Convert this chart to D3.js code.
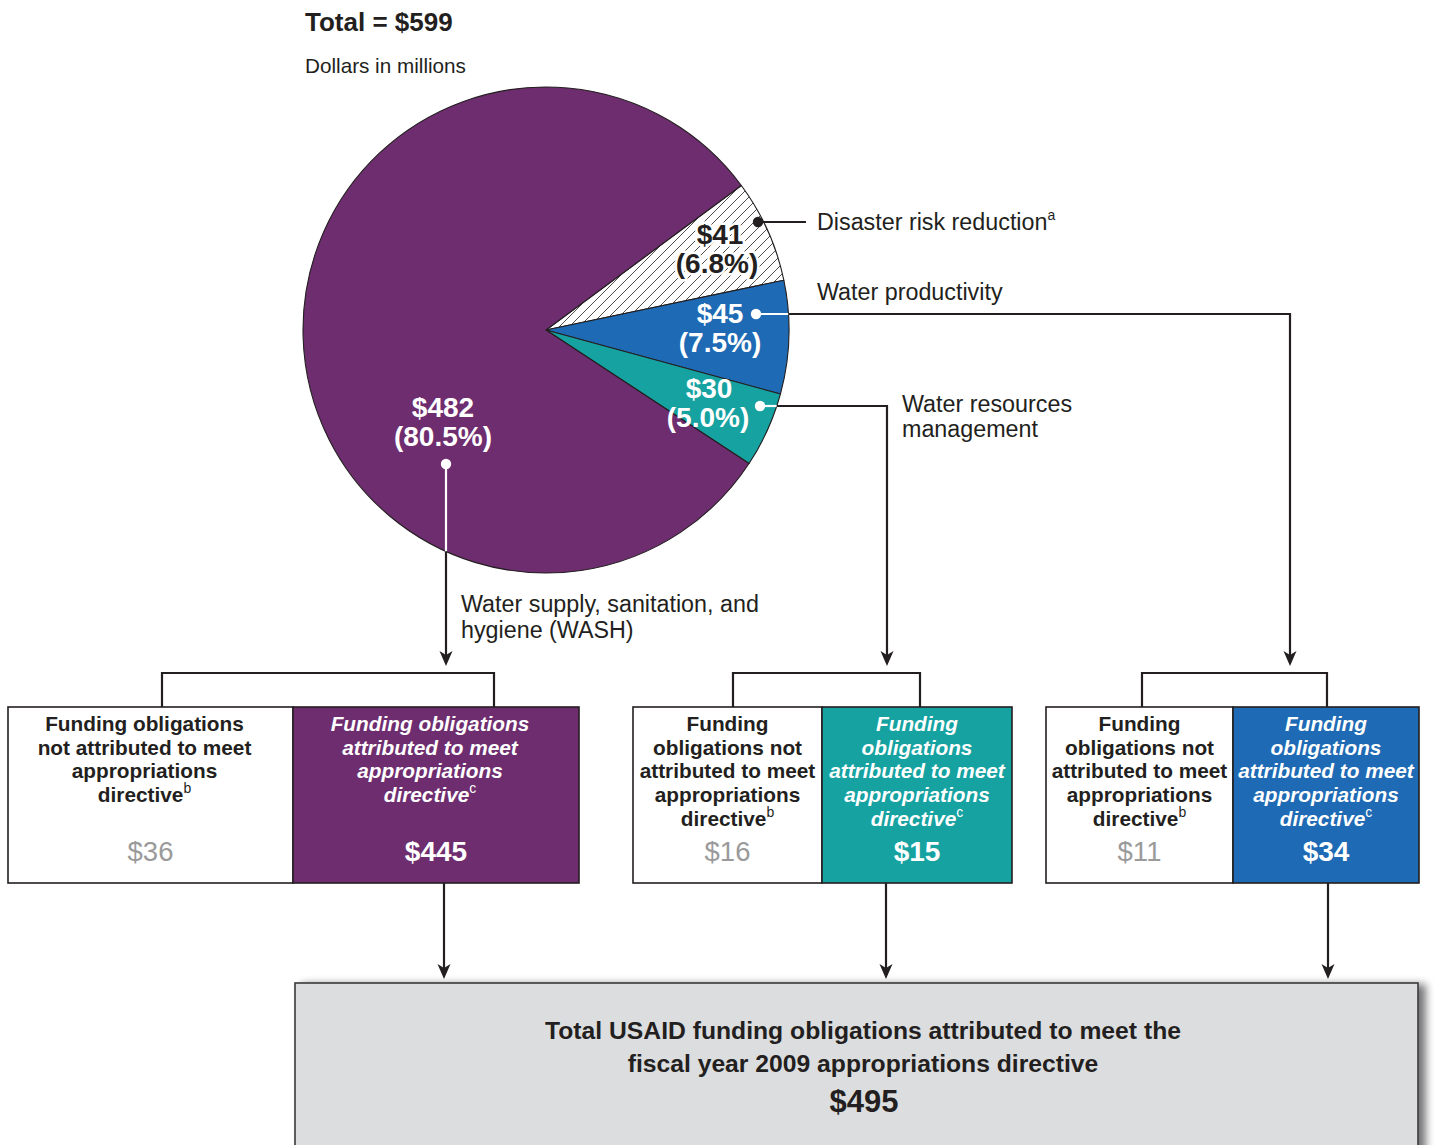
<!DOCTYPE html>
<html>
<head>
<meta charset="utf-8">
<script src="https://cdn.jsdelivr.net/npm/d3@7"></script>
<style>
  html, body { margin: 0; padding: 0; background: #ffffff; }
  svg { display: block; font-family: "Liberation Sans", Arial, Helvetica, sans-serif; }
</style>
</head>
<body>
<svg id="chart" width="1435" height="1145"></svg>
<script>
// ---------------- DATA ----------------
const categories = ["Disaster risk reduction", "Water productivity", "Water resources management", "Water supply, sanitation, and hygiene (WASH)"];
const values = [41, 45, 30, 482];
const percents = ["6.8%", "7.5%", "5.0%", "80.5%"];
const totalValue = 599;
// breakdown groups (WASH, Water resources management, Water productivity)
const groupNames = ["WASH", "Water resources management", "Water productivity"];
const notAttributed = [36, 16, 11];
const attributed = [445, 15, 34];
const totalAttributed = 495;

// ---------------- STYLE / LAYOUT ----------------
const INK = "#231f20";
const sliceFill = ["url(#hatch)", "#1e6ab4", "#15a2a1", "#6e2d6f"];
const sliceLabelColor = [INK, "#fff", "#fff", "#fff"];
const groupColor = ["#6e2d6f", "#15a2a1", "#1e6ab4"];

const svg = d3.select("#chart");
const defs = svg.append("defs");
const HS = 10;
const pat = defs.append("pattern").attr("id", "hatch").attr("patternUnits", "userSpaceOnUse")
  .attr("width", HS).attr("height", HS);
pat.append("rect").attr("width", HS).attr("height", HS).attr("fill", "#fff");
pat.append("path").attr("d", `M-1,1 l2,-2 M0,${HS} L${HS},0 M${HS - 1},${HS + 1} l2,-2`).attr("stroke", INK).attr("stroke-width", 0.8);

const shadow = defs.append("filter").attr("id", "shadow").attr("x", "-5%").attr("y", "-10%").attr("width", "115%").attr("height", "130%");
shadow.append("feGaussianBlur").attr("in", "SourceAlpha").attr("stdDeviation", 4);
shadow.append("feOffset").attr("dx", 7).attr("dy", 2).attr("result", "ob");
shadow.append("feComponentTransfer").append("feFuncA").attr("type", "linear").attr("slope", 0.55);
const fm = shadow.append("feMerge");
fm.append("feMergeNode");
fm.append("feMergeNode").attr("in", "SourceGraphic");

// ---------------- TITLE ----------------
svg.append("text").attr("x", 305).attr("y", 31).attr("font-size", 26).attr("font-weight", "bold")
  .attr("fill", INK).text("Total = $" + totalValue);
svg.append("text").attr("x", 305).attr("y", 73).attr("font-size", 20.7)
  .attr("fill", INK).text("Dollars in millions");

// ---------------- PIE ----------------
const cx = 546, cy = 330, R = 243;
const start = 53.5 * Math.PI / 180;
const pie = d3.pie().sort(null).startAngle(start).endAngle(start + 2 * Math.PI);
const arcs = pie(values);
const arc = d3.arc().innerRadius(0).outerRadius(R);
const gPie = svg.append("g").attr("transform", `translate(${cx},${cy})`);
gPie.selectAll("path.slice").data(arcs).enter().append("path")
  .attr("class", "slice").attr("d", arc)
  .attr("fill", (d, i) => sliceFill[i])
  .attr("stroke", INK).attr("stroke-width", 1.1).attr("stroke-linejoin", "round");

// slice value labels
const labelPos = [[720, 244], [720, 323], [709, 398], [443, 417]];
arcs.forEach((d, i) => {
  const [lx, ly] = labelPos[i];
  const t = svg.append("text").attr("text-anchor", "middle").attr("font-size", 28)
    .attr("font-weight", "bold").attr("fill", sliceLabelColor[i]);
  if (i === 0) t.attr("stroke", "#fff").attr("stroke-width", 5).attr("paint-order", "stroke").attr("stroke-linejoin", "round");
  t.append("tspan").attr("x", lx).attr("y", ly).text("$" + values[i]);
  t.append("tspan").attr("x", lx - (i === 0 ? 3 : i === 2 ? 1 : 0)).attr("y", ly + 29).text("(" + percents[i] + ")");
});

// ---------------- CONNECTORS ----------------
function line(pts, color, w) {
  svg.append("path").attr("d", d3.line()(pts)).attr("fill", "none")
    .attr("stroke", color).attr("stroke-width", w || 2.2).attr("stroke-linejoin", "miter");
}
function arrowHead(x, y) {
  svg.append("path").attr("d", `M${x},${y} L${x - 6.5},${y - 15} L${x},${y - 11} L${x + 6.5},${y - 15} Z`)
    .attr("fill", INK);
}
function dot(x, y, c) {
  svg.append("circle").attr("cx", x).attr("cy", y).attr("r", 5.2).attr("fill", c);
}
function edgeX(y) { return cx + Math.sqrt(R * R - (y - cy) * (y - cy)); }
function edgeY(x) { return cy + Math.sqrt(R * R - (x - cx) * (x - cx)); }

const labelFont = 23.3;
// Disaster risk reduction
line([[758, 222], [806, 222]], INK);
dot(758, 222, INK);
const tDrr = svg.append("text").attr("x", 817).attr("y", 230).attr("font-size", labelFont).attr("fill", INK);
tDrr.append("tspan").text(categories[0]);
tDrr.append("tspan").attr("font-size", 14).attr("dy", -10).text("a");

// Water productivity
line([[756, 314], [edgeX(314), 314]], "#fff");
line([[edgeX(314), 314], [1290, 314], [1290, 662]], INK);
arrowHead(1290, 666);
dot(756, 314, "#fff");
svg.append("text").attr("x", 817).attr("y", 300).attr("font-size", labelFont).attr("fill", INK).text(categories[1]);

// Water resources management
line([[760, 406], [edgeX(406), 406]], "#fff");
line([[edgeX(406), 406], [887, 406], [887, 662]], INK);
arrowHead(887, 666);
dot(760, 406, "#fff");
const tWrm = svg.append("text").attr("font-size", labelFont).attr("fill", INK);
tWrm.append("tspan").attr("x", 902).attr("y", 412).text("Water resources");
tWrm.append("tspan").attr("x", 902).attr("y", 437).text("management");

// WASH
line([[446, 464], [446, edgeY(446)]], "#fff");
line([[446, edgeY(446)], [446, 662]], INK);
arrowHead(446, 666);
dot(446, 464, "#fff");
const tWash = svg.append("text").attr("font-size", labelFont).attr("fill", INK);
tWash.append("tspan").attr("x", 461).attr("y", 612).text("Water supply, sanitation, and");
tWash.append("tspan").attr("x", 461).attr("y", 638).text("hygiene (WASH)");

// ---------------- BREAKDOWN BOXES ----------------
const boxTop = 707, boxBot = 883;
const groups = [
  { x0: 8, x1: 293, x2: 579, br: [162, 494], out: 444, textDx: -6,
    left: ["Funding obligations", "not attributed to meet", "appropriations", "directive"],
    right: ["Funding obligations", "attributed to meet", "appropriations", "directive"] },
  { x0: 633, x1: 822, x2: 1012, br: [733, 920], out: 886, textDx: 0,
    left: ["Funding", "obligations not", "attributed to meet", "appropriations", "directive"],
    right: ["Funding", "obligations", "attributed to meet", "appropriations", "directive"] },
  { x0: 1046, x1: 1233, x2: 1419, br: [1142, 1327], out: 1328, textDx: 0,
    left: ["Funding", "obligations not", "attributed to meet", "appropriations", "directive"],
    right: ["Funding", "obligations", "attributed to meet", "appropriations", "directive"] }
];

function boxText(lines, xc, color, italic, sup) {
  const t = svg.append("text").attr("text-anchor", "middle").attr("font-size", 20.8)
    .attr("font-weight", "bold").attr("fill", color).attr("font-style", italic ? "italic" : "normal");
  lines.forEach((s, k) => {
    const ts = t.append("tspan").attr("x", xc).attr("y", 731 + k * 23.7);
    if (k === lines.length - 1) {
      ts.append("tspan").text(s);
      ts.append("tspan").attr("font-size", 14).attr("font-weight", "normal").attr("font-style", "normal")
        .attr("dy", -9).text(sup);
    } else ts.text(s);
  });
}

groups.forEach((g, i) => {
  line([[g.br[0], boxTop], [g.br[0], 673], [g.br[1], 673], [g.br[1], boxTop]], INK);
  svg.append("rect").attr("x", g.x0).attr("y", boxTop).attr("width", g.x1 - g.x0).attr("height", boxBot - boxTop)
    .attr("fill", "#fff").attr("stroke", INK).attr("stroke-width", 1.6);
  svg.append("rect").attr("x", g.x1).attr("y", boxTop).attr("width", g.x2 - g.x1).attr("height", boxBot - boxTop)
    .attr("fill", groupColor[i]).attr("stroke", INK).attr("stroke-width", 1.6);
  const lc = (g.x0 + g.x1) / 2, rc = (g.x1 + g.x2) / 2;
  boxText(g.left, lc + g.textDx, INK, false, "b");
  boxText(g.right, rc + g.textDx, "#fff", true, "c");
  svg.append("text").attr("x", lc).attr("y", 861).attr("text-anchor", "middle").attr("font-size", 27.5)
    .attr("fill", "#9a9a9a").text("$" + notAttributed[i]);
  svg.append("text").attr("x", rc).attr("y", 861).attr("text-anchor", "middle").attr("font-size", 28)
    .attr("font-weight", "bold").attr("fill", "#fff").text("$" + attributed[i]);
  line([[g.out, boxBot], [g.out, 975]], INK);
  arrowHead(g.out, 979);
});

// ---------------- TOTAL BOX ----------------
svg.append("rect").attr("x", 295).attr("y", 983).attr("width", 1123).attr("height", 175)
  .attr("fill", "#dcdddf").attr("stroke", "#3a3a3c").attr("stroke-width", 1.6).attr("filter", "url(#shadow)");
const tt = svg.append("text").attr("text-anchor", "middle").attr("font-weight", "bold").attr("fill", INK);
tt.append("tspan").attr("x", 863).attr("y", 1039).attr("font-size", 24.7).text("Total USAID funding obligations attributed to meet the");
tt.append("tspan").attr("x", 863).attr("y", 1072).attr("font-size", 24.7).text("fiscal year 2009 appropriations directive");
tt.append("tspan").attr("x", 864).attr("y", 1112).attr("font-size", 31).text("$" + totalAttributed);
</script>
</body>
</html>
